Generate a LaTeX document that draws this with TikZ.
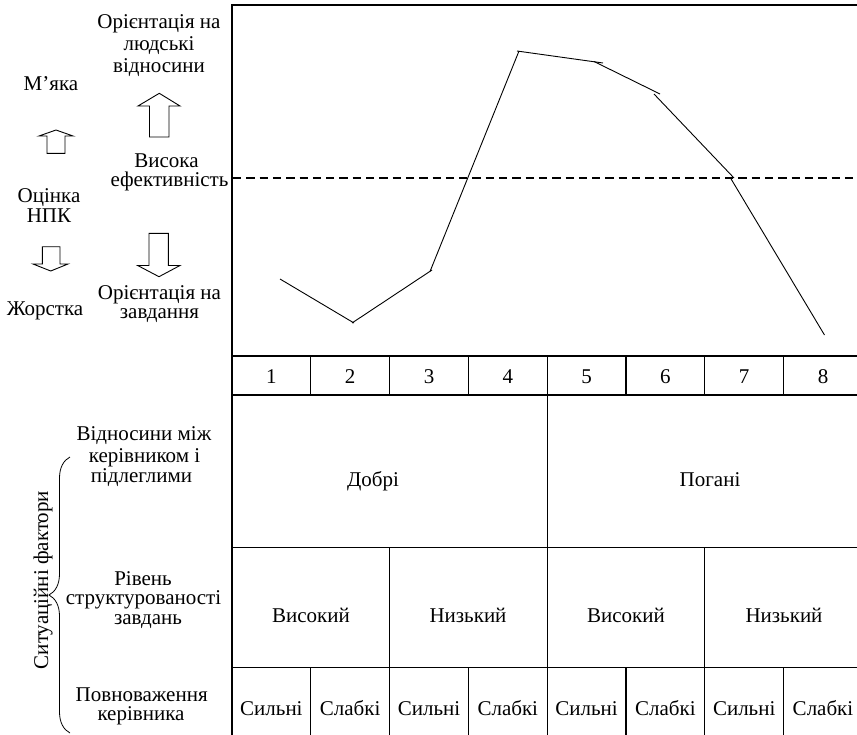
\documentclass[tikz,border=0pt]{standalone}
\usepackage{fontspec}
\setmainfont{Liberation Serif}
\usetikzlibrary{decorations.pathreplacing}

\begin{document}
\begin{tikzpicture}[x=1pt, y=-1pt,
  txt/.style={font=\fontsize{21}{22}\selectfont, inner sep=0pt, anchor=base,
              text height=13.5pt, text depth=3.5pt},
  rule/.style={line width=1.2pt},
  curve/.style={line width=0.9pt},
  level/.style={line width=1.3pt, dash pattern=on 8.3pt off 5pt},
  blockarrow/.style={line width=0.9pt, line join=miter},
  bracket/.style={line width=0.8pt, decorate, decoration={brace, amplitude=21pt}}]

\useasboundingbox (0,0) rectangle (857,734);
\clip (0,0) rectangle (857,734);

% ---------- chart frame and table grid (runs past the right and lower edges) ----------
\draw[rule] (232,740) -- (232,5) -- (870,5);
\draw[rule] (232,356) -- (870,356);
\draw[rule] (232,395) -- (870,395);
\draw[rule] (232,547.5) -- (870,547.5);
\draw[rule] (232,667.5) -- (870,667.5);
% columns of the number row
\foreach \k in {1,...,7} \draw[rule] (232+78.8*\k,356) -- (232+78.8*\k,395);
% split between good and poor relations
\draw[rule] (547.2,395) -- (547.2,740);
% split of task structure
\draw[rule] (389.6,547.5) -- (389.6,740);
\draw[rule] (704.8,547.5) -- (704.8,740);
% split of position power
\foreach \k in {1,3,5,7} \draw[rule] (232+78.8*\k,667.5) -- (232+78.8*\k,740);

% ---------- efficiency threshold ----------
\coordinate (lvlA) at (233,178);
\coordinate (lvlB) at (870,178);
\draw[level] (lvlA) -- (lvlB);

% ---------- performance curve ----------
\coordinate (p1a) at (280,279);   \coordinate (p2a) at (354,323);
\coordinate (p2b) at (352,323);   \coordinate (p3a) at (432,270);
\coordinate (p3b) at (430,271.5); \coordinate (p4a) at (519,51);
\coordinate (p4b) at (517,51);    \coordinate (p5a) at (603,63);
\coordinate (p5b) at (594,61.5);  \coordinate (p6a) at (660,94);
\coordinate (p6b) at (654,94);    \coordinate (p7a) at (734,178);
\coordinate (p7b) at (730.5,178); \coordinate (p8a) at (824.5,335);
\draw[curve] (p1a) -- (p2a);
\draw[curve] (p2b) -- (p3a);
\draw[curve] (p3b) -- (p4a);
\draw[curve] (p4b) -- (p5a);
\draw[curve] (p5b) -- (p6a);
\draw[curve] (p6b) -- (p7a);
\draw[curve] (p7b) -- (p8a);

% ---------- table labels ----------
\foreach \k in {1,...,8}
  \node[txt] (num\k) at (232+78.8*\k-39.4,383) {\k};
\node[txt] (good) at (373,486) {Добрі};
\node[txt] (poor) at (710,486) {Погані};
\node[txt] (high1) at (311,622) {Високий};
\node[txt] (low1)  at (468,622) {Низький};
\node[txt] (high2) at (626,622) {Високий};
\node[txt] (low2)  at (784,622) {Низький};
\foreach \k/\w in {1/Сильні,2/Слабкі,3/Сильні,4/Слабкі,5/Сильні,6/Слабкі,7/Сильні,8/Слабкі}
  \node[txt] (pow\k) at (232+78.8*\k-39.4,715) {\w};

% ---------- left column: leadership orientation ----------
\node[txt] (peo1) at (159,28) {Орієнтація на};
\node[txt] (peo2) at (159,50) {людські};
\node[txt] (peo3) at (159,72) {відносини};
\node[txt] (eff1) at (166.5,167) {Висока};
\node[txt] (eff2) at (169.5,186) {ефективність};
\node[txt] (tsk1) at (159.5,299) {Орієнтація на};
\node[txt] (tsk2) at (159.5,318) {завдання};

\node[txt] (soft) at (51,90) {М’яка};
\node[txt] (lpc1) at (49,202) {Оцінка};
\node[txt] (lpc2) at (49,222) {НПК};
\node[txt] (hard) at (45,315) {Жорстка};

% block arrows
\draw[blockarrow] (56,130) -- (73,136) -- (65,136) -- (65,153.3) -- (47,153.3)
  -- (47,136) -- (39,136) -- cycle;
\draw[blockarrow] (50.7,271) -- (68,264) -- (60,264) -- (60,246.7) -- (42.3,246.7)
  -- (42.3,264) -- (33,264) -- cycle;
\draw[blockarrow] (159.3,93.3) -- (180,106) -- (169,106) -- (169,137) -- (149.5,137)
  -- (149.5,106) -- (138,106) -- cycle;
\draw[blockarrow] (159,276.7) -- (180,265.5) -- (168.3,265.5) -- (168.3,233.3)
  -- (149,233.3) -- (149,265.5) -- (137.7,265.5) -- cycle;

% ---------- left column: situational factors ----------
\node[txt] (rel1) at (144,440) {Відносини між};
\node[txt] (rel2) at (144.5,462) {керівником і};
\node[txt] (rel3) at (141.5,482) {підлеглими};
\node[txt] (str1) at (143,585) {Рівень};
\node[txt] (str2) at (143.5,604) {структурованості};
\node[txt] (str3) at (148,624) {завдань};
\node[txt] (pwr1) at (141.7,701) {Повноваження};
\node[txt] (pwr2) at (141,720) {керівника};

\coordinate (brTop) at (70,457);
\coordinate (brBot) at (70,733);
\draw[bracket] (brBot) -- (brTop);
\node[txt, rotate=90] (factors) at (48,580) {Ситуаційні фактори};

\end{tikzpicture}
\end{document}
